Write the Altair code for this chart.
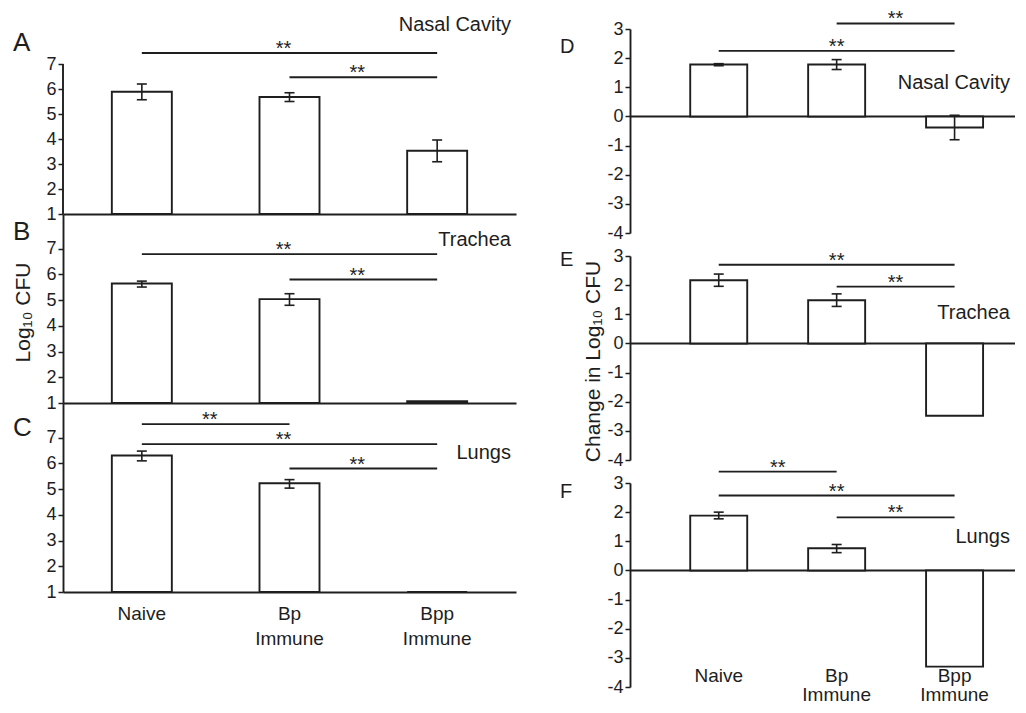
import altair as alt
import pandas as pd

FONT = "Liberation Sans"
INK = "#1e1e1e"
LINE = 1.9

positions = [0, 1, 2]
groups = ["Naive", "Bp\nImmune", "Bpp\nImmune"]
left_ticks = [1, 2, 3, 4, 5, 6, 7]
right_ticks = [-4, -3, -2, -1, 0, 1, 2, 3]

# Panel A - Nasal Cavity (log10 CFU)
a_val = [5.89, 5.68, 3.53]
a_lo = [5.57, 5.50, 3.09]
a_hi = [6.20, 5.85, 3.96]
a_sig_from = [0, 1]
a_sig_to = [2, 2]
a_sig_y = [7.44, 6.47]

# Panel B - Trachea (log10 CFU)
b_val = [5.65, 5.04, 1.07]
b_lo = [5.51, 4.80, None]
b_hi = [5.74, 5.25, None]
b_sig_from = [0, 1]
b_sig_to = [2, 2]
b_sig_y = [6.79, 5.80]

# Panel C - Lungs (log10 CFU)
c_val = [6.31, 5.23, 1.0]
c_lo = [6.10, 5.04, None]
c_hi = [6.48, 5.37, None]
c_sig_from = [0, 0, 1]
c_sig_to = [1, 2, 2]
c_sig_y = [7.53, 6.75, 5.80]

# Panel D - Nasal Cavity (change in log10 CFU)
d_val = [1.78, 1.78, -0.38]
d_lo = [1.74, 1.61, -0.80]
d_hi = [1.81, 1.95, 0.04]
d_sig_from = [1, 0]
d_sig_to = [2, 2]
d_sig_y = [3.19, 2.25]

# Panel E - Trachea (change in log10 CFU)
e_val = [2.17, 1.48, -2.48]
e_lo = [1.96, 1.27, None]
e_hi = [2.38, 1.70, None]
e_sig_from = [0, 1]
e_sig_to = [2, 2]
e_sig_y = [2.70, 1.95]

# Panel F - Lungs (change in log10 CFU)
f_val = [1.88, 0.76, -3.30]
f_lo = [1.77, 0.61, None]
f_hi = [2.00, 0.89, None]
f_sig_from = [0, 0, 1]
f_sig_to = [1, 2, 2]
f_sig_y = [3.39, 2.57, 1.82]


def panel(vals, lo, hi, sfrom, sto, sy, organ, organ_x, organ_y, letter,
          letter_size, letter_dx, letter_dy, width, height, xdom, ydom, yticks,
          base, bar_size, ytitle=None, ytitle_x=0, ytitle_y=None,
          xlabel_y=None, xlabel_lh=24, left_style=True, axis_rule_top=None,
          star_dx=0, top_anchor=False):
    df = pd.DataFrame({"pos": positions, "group": groups, "val": vals,
                       "lo": lo, "hi": hi})
    err = df.dropna(subset=["lo", "hi"])
    sig = pd.DataFrame({"x1": sfrom, "x2": sto, "y": sy})
    org = pd.DataFrame({"x": [organ_x], "y": [organ_y], "t": [organ]})

    xs = alt.Scale(domain=xdom, nice=False, zero=False)
    ys = alt.Scale(domain=ydom, nice=False, zero=False)
    if left_style:
        xax = alt.Axis(labels=False, ticks=False, grid=False, title=None,
                       domain=True, domainColor=INK, domainWidth=LINE)
    else:
        xax = None
    ykw = dict(values=yticks, grid=False, tickSize=5, tickColor=INK,
               tickWidth=1.5, labelFont=FONT, labelFontSize=18,
               labelColor=INK, labelPadding=2, domain=axis_rule_top is None,
               domainColor=INK, domainWidth=LINE,
               labelExpr="'' + datum.value")
    if ytitle:
        ykw.update(title=ytitle, titleFont=FONT, titleFontSize=21,
                   titleFontWeight="normal", titleColor=INK, titleX=ytitle_x,
                   titleY=ytitle_y, titleAngle=270, titleAlign="center",
                   titleBaseline="middle")
    else:
        ykw.update(title=None)
    yax = alt.Axis(**ykw)

    def X(f):
        return alt.X(f, type="quantitative", scale=xs, axis=xax)

    def Y(f):
        return alt.Y(f, type="quantitative", scale=ys, axis=yax)

    layers = []
    if top_anchor:
        # invisible spacer so both columns share the same top edge
        layers.append(alt.Chart(pd.DataFrame({"a": [0]}))
                      .mark_rule(strokeOpacity=0, opacity=0)
                      .encode(x=alt.value(0), x2=alt.value(1),
                              y=alt.value(-21)))
    if not left_style:
        zero = pd.DataFrame({"z": [0]})
        layers.append(alt.Chart(zero).mark_rule(color=INK, strokeWidth=LINE)
                      .encode(y=Y("z")))
    if axis_rule_top is not None:
        ar = pd.DataFrame({"y1": [ydom[0]], "y2": [axis_rule_top]})
        layers.append(alt.Chart(ar).mark_rule(color=INK, strokeWidth=LINE)
                      .encode(x=alt.value(0), y=Y("y1"), y2="y2"))
    layers.append(
        alt.Chart(df).mark_bar(size=bar_size, fill="white", stroke=INK,
                               strokeWidth=LINE)
        .encode(x=X("pos"), y=Y("val"), y2=alt.datum(base)))
    if len(err):
        layers.append(alt.Chart(err).mark_rule(color=INK, strokeWidth=1.6)
                      .encode(x=X("pos"), y=Y("lo"), y2="hi"))
        for f in ["lo", "hi"]:
            layers.append(
                alt.Chart(err).mark_tick(orient="horizontal", size=10,
                                         thickness=1.6, color=INK, opacity=1)
                .encode(x=X("pos"), y=Y(f)))
    layers.append(alt.Chart(sig).mark_rule(color=INK, strokeWidth=LINE)
                  .encode(x=X("x1"), x2="x2", y=Y("y")))
    layers.append(
        alt.Chart(sig).transform_calculate(mid="(datum.x1 + datum.x2) / 2")
        .mark_text(text="**", font=FONT, fontSize=20, color=INK,
                   baseline="alphabetic", dy=2, dx=star_dx)
        .encode(x=X("mid"), y=Y("y")))
    layers.append(
        alt.Chart(org).mark_text(font=FONT, fontSize=20, color=INK,
                                 align="right", baseline="middle")
        .encode(x=X("x"), y=Y("y"), text="t"))
    if xlabel_y is not None:
        layers.append(
            alt.Chart(df).transform_calculate(ly=str(xlabel_y))
            .mark_text(font=FONT, fontSize=19, color=INK, baseline="top",
                       lineBreak="\n", lineHeight=xlabel_lh)
            .encode(x=X("pos"), y=Y("ly"), text="group"))
    # panel letter
    layers.append(
        alt.Chart(pd.DataFrame({"t": [letter]}))
        .mark_text(font=FONT, fontSize=letter_size, color=INK, align="left",
                   baseline="alphabetic")
        .encode(x=alt.value(letter_dx), y=alt.value(letter_dy), text="t"))

    return alt.layer(*layers).properties(width=width, height=height)


LW, RW = 453, 385
LX = [-0.5, 2.5]
RX = [-0.71, 2.47]

A = panel(a_val, a_lo, a_hi, a_sig_from, a_sig_to, a_sig_y, "Nasal Cavity",
          2.5, 8.56, "A", 26, -50, 22, LW, 185, LX, [1, 8.4], left_ticks, 1,
          60, axis_rule_top=7, star_dx=-6, top_anchor=True)
B = panel(b_val, b_lo, b_hi, b_sig_from, b_sig_to, b_sig_y, "Trachea",
          2.5, 7.34, "B", 26, -50, 26, LW, 189, LX, [1, 8.35], left_ticks, 1,
          60, ytitle="Log₁₀ CFU", ytitle_x=-40, ytitle_y=98, star_dx=-6)
C = panel(c_val, c_lo, c_hi, c_sig_from, c_sig_to, c_sig_y, "Lungs",
          2.5, 6.41, "C", 26, -50, 33, LW, 189, LX, [1, 8.35], left_ticks, 1,
          60, xlabel_y=0.5, xlabel_lh=25, star_dx=-6)
D = panel(d_val, d_lo, d_hi, d_sig_from, d_sig_to, d_sig_y, "Nasal Cavity",
          2.47, 1.15, "D", 20, -70, 24, RW, 204, RX, [-4, 3], right_ticks, 0,
          57, left_style=False, top_anchor=True)
E = panel(e_val, e_lo, e_hi, e_sig_from, e_sig_to, e_sig_y, "Trachea",
          2.47, 1.05, "E", 20, -70, 10, RW, 204, RX, [-4, 3], right_ticks, 0,
          57, ytitle="Change in Log₁₀ CFU", ytitle_x=-37, ytitle_y=105,
          left_style=False)
F = panel(f_val, f_lo, f_hi, f_sig_from, f_sig_to, f_sig_y, "Lungs",
          2.47, 1.14, "F", 20, -70, 15, RW, 204, RX, [-4, 3], right_ticks, 0,
          57, xlabel_y=-3.3, xlabel_lh=19, left_style=False)

left = alt.vconcat(A, B, C, spacing=0, bounds="flush")
right = alt.vconcat(D, E, F, spacing=23, bounds="flush")
chart = (
    alt.hconcat(left, right, spacing=44)
    .properties(padding={"left": 4, "top": 0, "right": 0, "bottom": 0},
                background="white")
    .configure(font=FONT)
    .configure_view(stroke=None)
)

chart.save("out.html", embed_options={"renderer": "svg", "actions": False})
